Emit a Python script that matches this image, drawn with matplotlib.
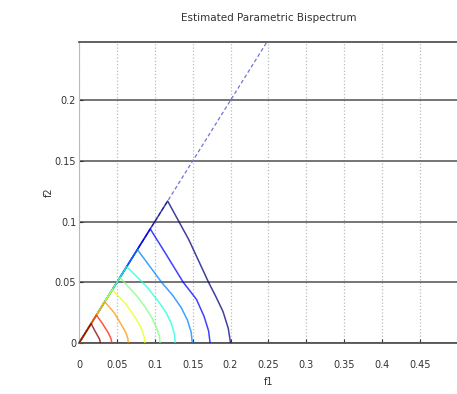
import matplotlib
matplotlib.use('Agg')
import matplotlib.pyplot as plt
import numpy as np

plt.rcParams['font.family'] = ['Liberation Sans Narrow', 'DejaVu Sans']

# contour curves, outermost first (f1, f2)
c1_f1 = [0.200, 0.197, 0.190, 0.180, 0.171, 0.145, 0.117]
c1_f2 = [0.000, 0.012, 0.026, 0.039, 0.050, 0.085, 0.117]
c2_f1 = [0.173, 0.171, 0.165, 0.155, 0.1376, 0.115, 0.094]
c2_f2 = [0.000, 0.010, 0.022, 0.036, 0.050, 0.073, 0.094]
c3_f1 = [0.1495, 0.148, 0.143, 0.135, 0.124, 0.109, 0.077]
c3_f2 = [0.000, 0.009, 0.019, 0.029, 0.039, 0.050, 0.077]
c4_f1 = [0.127, 0.126, 0.122, 0.115, 0.105, 0.090, 0.063]
c4_f2 = [0.000, 0.007, 0.016, 0.025, 0.034, 0.046, 0.063]
c5_f1 = [0.107, 0.106, 0.102, 0.096, 0.088, 0.076, 0.054]
c5_f2 = [0.000, 0.006, 0.013, 0.021, 0.029, 0.039, 0.054]
c6_f1 = [0.087, 0.086, 0.083, 0.078, 0.071, 0.062, 0.044]
c6_f2 = [0.000, 0.005, 0.011, 0.017, 0.024, 0.032, 0.044]
c7_f1 = [0.065, 0.0645, 0.062, 0.058, 0.053, 0.047, 0.034]
c7_f2 = [0.000, 0.0037, 0.0082, 0.0128, 0.018, 0.0245, 0.034]
c8_f1 = [0.043, 0.0427, 0.041, 0.0385, 0.035, 0.031, 0.023]
c8_f2 = [0.000, 0.0025, 0.0054, 0.0085, 0.012, 0.016, 0.023]
c9_f1 = [0.028, 0.0278, 0.0268, 0.025, 0.023, 0.0205, 0.016]
c9_f2 = [0.000, 0.0016, 0.0035, 0.0055, 0.0078, 0.0105, 0.016]

curves = [(c1_f1, c1_f2), (c2_f1, c2_f2), (c3_f1, c3_f2), (c4_f1, c4_f2),
          (c5_f1, c5_f2), (c6_f1, c6_f2), (c7_f1, c7_f2), (c8_f1, c8_f2),
          (c9_f1, c9_f2)]

xticks = [0, 0.05, 0.1, 0.15, 0.2, 0.25, 0.3, 0.35, 0.4, 0.45]
xtick_labels = ['0', '0.05', '0.1', '0.15', '0.2', '0.25', '0.3', '0.35', '0.4', '0.45']
yticks = [0, 0.05, 0.1, 0.15, 0.2]
ytick_labels = ['0', '0.05', '0.1', '0.15', '0.2']
diag = [0, 0.25]

fig = plt.figure(figsize=(4.57, 3.94), dpi=100)
ax = fig.add_axes([0.1729, 0.1294, 0.829, 0.764])

# dashed symmetry line f1 = f2
ax.plot(diag, diag, color='#6f74d8', lw=0.9, ls=(0, (3, 2)), zorder=2)

colors = plt.cm.jet(np.linspace(0, 1, len(curves)))
for (cx, cy), col in zip(curves, colors):
    # curve from the f1 axis up to the diagonal, then back down the diagonal
    xs = list(cx) + [0]
    ys = list(cy) + [0]
    ax.plot(xs, ys, color=col, lw=1.1, alpha=0.75, zorder=3)

ax.set_xlim(0, 0.5)
ax.set_ylim(0, 0.248)
ax.set_xticks(xticks)
ax.set_xticklabels(xtick_labels)
ax.set_yticks(yticks)
ax.set_yticklabels(ytick_labels)
ax.tick_params(direction='in', length=3, labelsize=7, colors='#333333')
ax.tick_params(axis='x', pad=12)
ax.tick_params(axis='y', pad=2)

ax.xaxis.grid(True, color='#bbbbbb', ls=':', lw=0.9)
ax.yaxis.grid(True, color='#6a6a6a', ls='-', lw=1.3)
ax.set_axisbelow(True)

for s in ['top', 'bottom']:
    ax.spines[s].set_color('#555555')
    ax.spines[s].set_linewidth(1.3)
ax.spines['left'].set_color('#bbbbbb')
ax.spines['right'].set_visible(False)

ax.set_title('Estimated Parametric Bispectrum', fontsize=7.5, color='#333333', pad=15)
ax.set_xlabel('f1', fontsize=7, color='#333333', labelpad=5)
ax.set_ylabel('f2', fontsize=7, color='#333333', labelpad=1)

fig.savefig('out.png', dpi=100)
